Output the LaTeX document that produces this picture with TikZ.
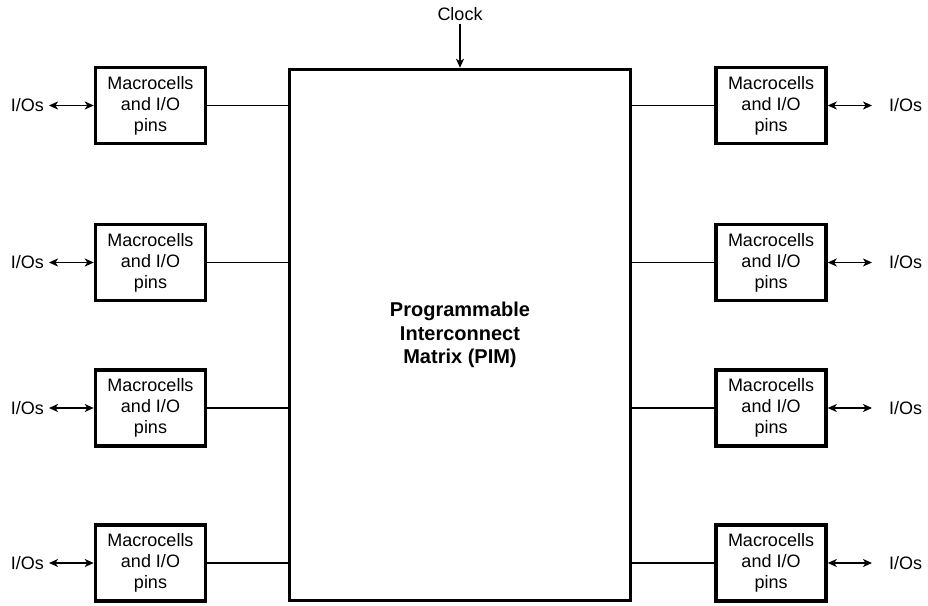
\documentclass[tikz,border=0pt]{standalone}
\usepackage{fontspec}
\setmainfont{Liberation Sans}
\usetikzlibrary{arrows.meta, positioning}
\tikzset{box/.style={rectangle,draw,line width=3.5pt,align=center,inner sep=0pt,minimum width=110pt,minimum height=76pt,font=\fontsize{18}{21}\selectfont},
  io/.style={inner sep=3pt,font=\fontsize{18}{21}\selectfont},
  line/.style={line width=1.5pt},
  biline/.style={line width=1.5pt,{Stealth[length=9pt,width=8pt,inset=2.5pt]}-{Stealth[length=9pt,width=8pt,inset=2.5pt]}}}

\begin{document}
\begin{tikzpicture}[x=1pt,y=-1pt]
\useasboundingbox (0,0) rectangle (928,605);
\node[draw,line width=3.5pt,minimum width=341pt,minimum height=531pt,inner sep=0pt,align=center,font=\fontsize{20}{23.3}\selectfont\bfseries] (pim) at (460,335) {Programmable\\Interconnect\\Matrix (PIM)};
\node[io] (clock) at (460,14) {Clock};
\draw[line,-{Stealth[length=9pt,width=8pt,inset=2.5pt]}] (clock.south) -- (pim.north);
% left column
\node[box] (ml1) at (150.5,105.5) {Macrocells\\and I/O\\pins};
\node[box] (ml2) at (150.5,262.5) {Macrocells\\and I/O\\pins};
\node[box] (ml3) at (150.5,408) {Macrocells\\and I/O\\pins};
\node[box] (ml4) at (150.5,563) {Macrocells\\and I/O\\pins};
\node[io,anchor=east] (iol1) at (47,105.5) {I/Os};
\node[io,anchor=east] (iol2) at (47,262.5) {I/Os};
\node[io,anchor=east] (iol3) at (47,408) {I/Os};
\node[io,anchor=east] (iol4) at (47,563) {I/Os};
% right column
\node[box] (mr1) at (771,105.5) {Macrocells\\and I/O\\pins};
\node[box] (mr2) at (771,262.5) {Macrocells\\and I/O\\pins};
\node[box] (mr3) at (771,408) {Macrocells\\and I/O\\pins};
\node[box] (mr4) at (771,563) {Macrocells\\and I/O\\pins};
\node[io,anchor=west] (ior1) at (886,105.5) {I/Os};
\node[io,anchor=west] (ior2) at (886,262.5) {I/Os};
\node[io,anchor=west] (ior3) at (886,408) {I/Os};
\node[io,anchor=west] (ior4) at (886,563) {I/Os};
% links
\draw[biline,shorten <=2pt] (iol1.east) -- (ml1.west);
\draw[biline,shorten <=2pt] (iol2.east) -- (ml2.west);
\draw[biline,shorten <=2pt] (iol3.east) -- (ml3.west);
\draw[biline,shorten <=2pt] (iol4.east) -- (ml4.west);
\draw[biline,shorten >=14pt] (mr1.east) -- (ior1.west);
\draw[biline,shorten >=14pt] (mr2.east) -- (ior2.west);
\draw[biline,shorten >=14pt] (mr3.east) -- (ior3.west);
\draw[biline,shorten >=14pt] (mr4.east) -- (ior4.west);
\draw[line] (ml1.east) -- (ml1.east -| pim.west);
\draw[line] (ml2.east) -- (ml2.east -| pim.west);
\draw[line] (ml3.east) -- (ml3.east -| pim.west);
\draw[line] (ml4.east) -- (ml4.east -| pim.west);
\draw[line] (mr1.west) -- (mr1.west -| pim.east);
\draw[line] (mr2.west) -- (mr2.west -| pim.east);
\draw[line] (mr3.west) -- (mr3.west -| pim.east);
\draw[line] (mr4.west) -- (mr4.west -| pim.east);
\end{tikzpicture}
\end{document}
